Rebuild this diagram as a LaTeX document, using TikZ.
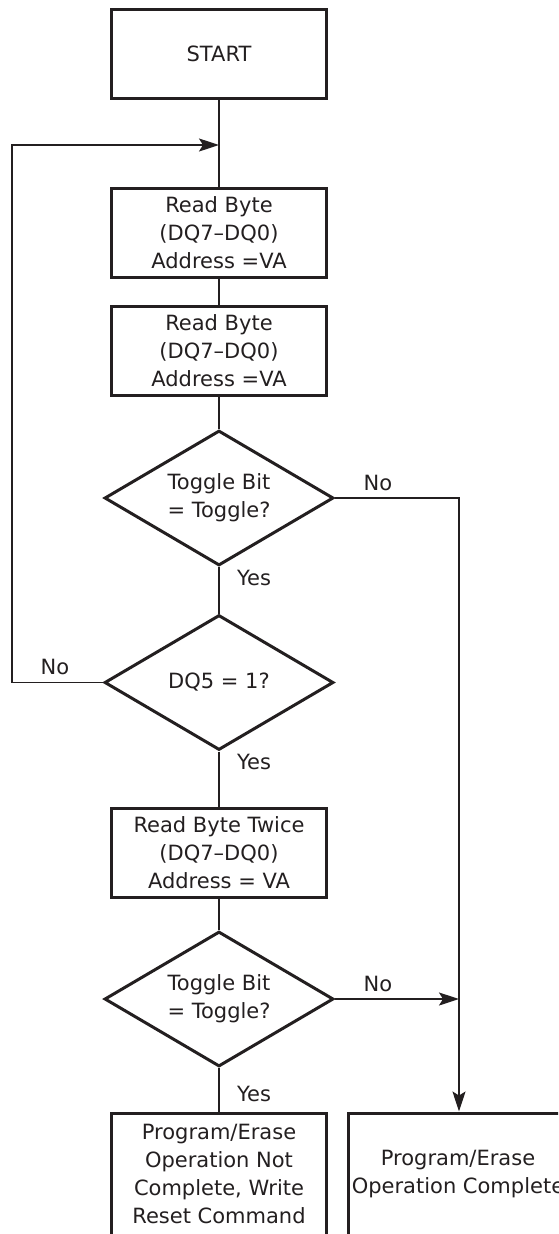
\documentclass[tikz,border=0pt]{standalone}
\usepackage{fontspec}
\setmainfont{DejaVu Sans}
\usetikzlibrary{shapes.geometric,arrows.meta}
\definecolor{ink}{RGB}{35,31,32}

\begin{document}
\begin{tikzpicture}[x=1pt,y=-1pt,
        font=\fontsize{21}{28}\selectfont,
        every node/.style={text=ink},
        stepbox/.style={draw=ink,line width=3pt,minimum width=215pt,minimum height=89pt,align=center,inner sep=0pt},
        test/.style={draw=ink,diamond,line width=3pt,minimum width=229pt,minimum height=135pt,aspect=1.7,align=center,inner sep=0pt},
        wire/.style={draw=ink,line width=1.6pt},
        arr/.style={wire,-{Stealth[length=20pt,width=13pt,inset=4pt]}},
        lbl/.style={inner sep=0pt}]
        \useasboundingbox (0,0) rectangle (558,1234);
        \clip (0,0) rectangle (558,1234);

        % main column
        \node[stepbox] (start) at (219,53.5) {START};
        \node[stepbox] (rd1) at (219,232.5) {Read Byte\\(DQ7–DQ0)\\Address =VA};
        \node[stepbox] (rd2) at (219,351) {Read Byte\\(DQ7–DQ0)\\Address =VA};
        \node[test] (tg1) at (219,498) {Toggle Bit\\= Toggle?};
        \node[test] (dq5) at (219,682.5) {DQ5 = 1?};
        \node[stepbox] (rd3) at (219,853) {Read Byte Twice\\(DQ7–DQ0)\\Address = VA};
        \node[test] (tg2) at (219,999) {Toggle Bit\\= Toggle?};
        \node[stepbox,minimum height=122pt] (fail) at (219,1174) {Program/Erase\\Operation Not\\Complete, Write\\Reset Command};
        \node[stepbox,minimum height=122pt,minimum width=220pt] (done) at (458,1174) {Program/Erase\\Operation Complete};

        % helper points
        \coordinate (join) at (219,145);
        \coordinate (back) at (12,145);
        \coordinate (side) at (459,498);

        \draw[wire] (start) -- (rd1)
        (rd1) -- (rd2)
        (rd2) -- (tg1)
        (tg1) -- (dq5)
        (dq5) -- (rd3)
        (rd3) -- (tg2)
        (tg2) -- (fail);
        \draw[arr] (dq5.west) -- (back |- dq5.west) -- (back) -- (join); % retry loop
        \draw[arr] (tg1.east) -- (side) -- (side |- done.north);
        \draw[arr] (tg2.east) -- (side |- tg2.east);

        % branch labels
        \node[lbl] (no1) at (378,483) {No};
        \node[lbl] (yes1) at (254,578) {Yes};
        \node[lbl] (no2) at (55,667) {No};
        \node[lbl] (yes2) at (254,762) {Yes};
        \node[lbl] (no3) at (378,984) {No};
        \node[lbl] (yes3) at (254,1094) {Yes};
\end{tikzpicture}
\end{document}
